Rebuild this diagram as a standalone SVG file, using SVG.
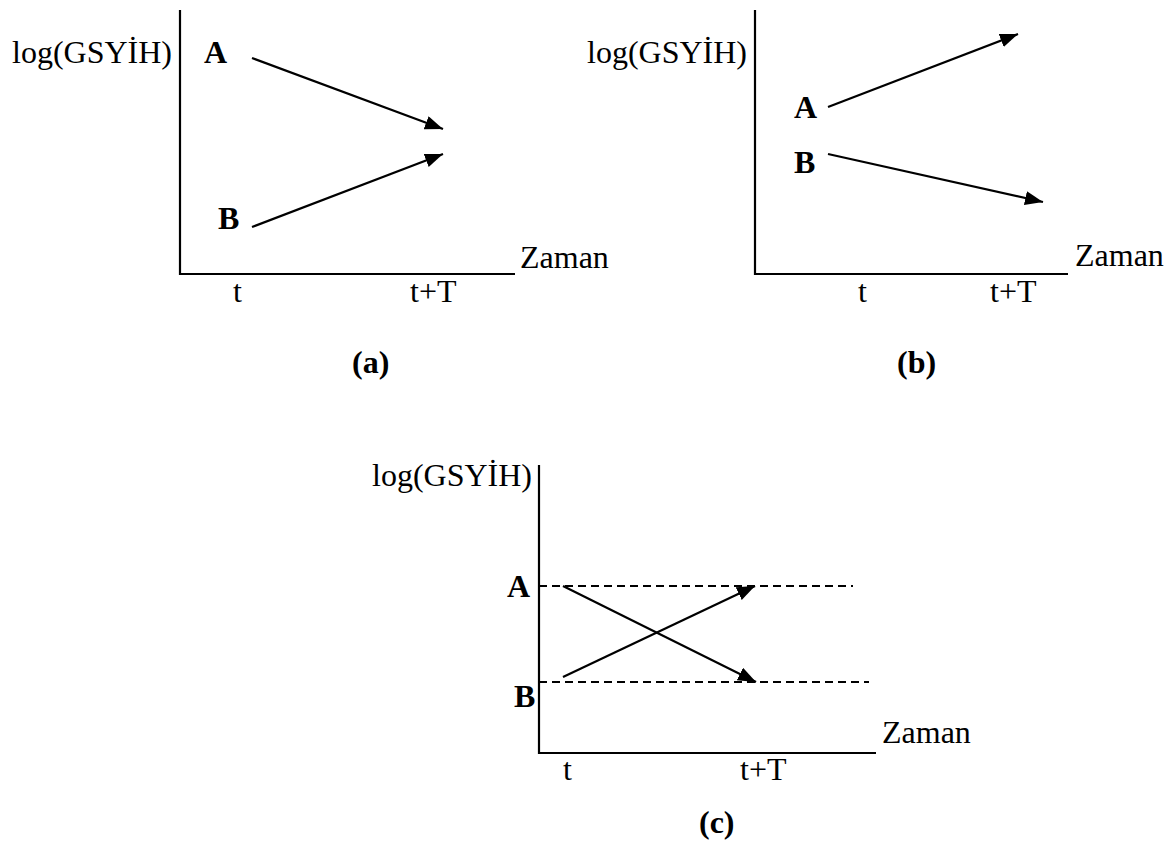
<svg xmlns="http://www.w3.org/2000/svg" width="1173" height="844" viewBox="0 0 1173 844">
<style>
  text { font-family: "Liberation Serif", "Times New Roman", serif; font-size: 32px; fill: #000; }
  .b { font-weight: bold; }
  .axis { stroke: #000; stroke-width: 2.2; fill: none; }
  .arr { stroke: #000; stroke-width: 2.2; fill: none; marker-end: url(#ah); }
  .dash { stroke: #000; stroke-width: 2; stroke-dasharray: 8 5; fill: none; }
</style>
<defs>
  <marker id="ah" markerUnits="userSpaceOnUse" markerWidth="20" markerHeight="16" refX="18" refY="7" orient="auto">
    <path d="M0,0 L18,7 L0,14 z" fill="#000"/>
  </marker>
</defs>
<rect width="1173" height="844" fill="#fff"/>

<g id="panel-a">
  <path class="axis" d="M180,10 V274 H515"/>
  <text x="12" y="63">log(GSYİH)</text>
  <text class="b" x="204" y="63">A</text>
  <text class="b" x="218" y="229">B</text>
  <text x="520" y="268">Zaman</text>
  <text x="233" y="302">t</text>
  <text x="410" y="302">t+T</text>
  <text class="b" x="352" y="373">(a)</text>
</g>

<g id="panel-b">
  <path class="axis" d="M755,10 V274 H1068"/>
  <text x="587" y="63">log(GSYİH)</text>
  <text class="b" x="794" y="118">A</text>
  <text class="b" x="794" y="173">B</text>
  <text x="1075" y="266">Zaman</text>
  <text x="858" y="302">t</text>
  <text x="990" y="302">t+T</text>
  <text class="b" x="897" y="373">(b)</text>
</g>

<g id="panel-c">
  <path class="axis" d="M539,465 V753 H876"/>
  <text x="372" y="486">log(GSYİH)</text>
  <text class="b" x="507" y="597">A</text>
  <text class="b" x="514" y="707">B</text>
  <text x="882" y="743">Zaman</text>
  <text x="563" y="780">t</text>
  <text x="740" y="780">t+T</text>
  <text class="b" x="699" y="833">(c)</text>
  <line class="dash" x1="539" y1="586" x2="853" y2="586"/>
  <line class="dash" x1="539" y1="682" x2="869" y2="682"/>
</g>

<g id="connectors">
  <line class="arr" x1="252" y1="58" x2="443" y2="129"/>
  <line class="arr" x1="252" y1="227" x2="443" y2="154"/>
  <line class="arr" x1="828" y1="107" x2="1018" y2="34"/>
  <line class="arr" x1="828" y1="154" x2="1043" y2="202"/>
  <line class="arr" x1="563" y1="586" x2="756" y2="682"/>
  <line class="arr" x1="563" y1="677" x2="755" y2="586"/>
</g>
</svg>
